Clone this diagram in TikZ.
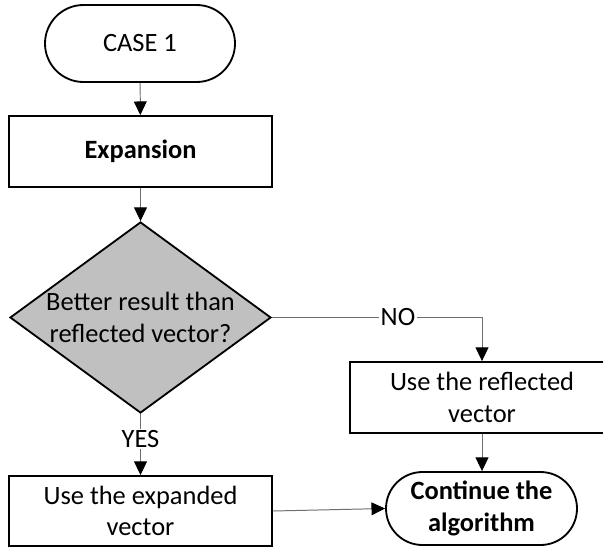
\documentclass[tikz,border=0pt]{standalone}
\usepackage{fontspec}
\setmainfont{Carlito}
\usetikzlibrary{arrows.meta,shapes.geometric,shapes.misc}
\definecolor{decgray}{RGB}{192,192,192}
\definecolor{linegray}{RGB}{110,110,110}
\tikzset{
  term/.style={draw=black, line width=1.3pt, rounded rectangle, align=center,
               font=\fontsize{18.8}{22.5}\selectfont, inner sep=0pt},
  blk/.style={draw=black, line width=1.3pt, rectangle, align=center,
              font=\fontsize{18.8}{22.5}\selectfont, inner sep=0pt},
  dec/.style={draw=black, line width=1.3pt, diamond, fill=decgray, inner sep=0pt},
  dectext/.style={align=center, font=\fontsize{18.8}{22.5}\selectfont, inner sep=0pt},
  conn/.style={draw=linegray, line width=0.7pt,
               -{Triangle[length=3.4mm, width=3.2mm, black]}},
  lbl/.style={fill=white, font=\fontsize{18.8}{22.5}\selectfont, inner sep=1pt},
}

\begin{document}
\begin{tikzpicture}
        \path[use as bounding box, clip] (0,0) rectangle (15.075,13.7);
        \fill[white] (0,0) rectangle (15.075,13.7);
        % boxes
        \node[term, minimum width=4.75cm, minimum height=1.925cm] (case) at (3.5,12.6125) {CASE 1};
        \node[blk, minimum width=6.575cm, minimum height=1.775cm] (expa) at (3.5125,9.9125) {\bfseries Expansion};
        \node[dec, minimum width=6.525cm, minimum height=4.775cm] (better) at (3.5125,5.7625) {};
        \node[dectext] (bettertxt) at (better.center) {Better result than\\reflected vector?};
        \node[blk, minimum width=6.6cm, minimum height=1.775cm] (refl) at (12.05,3.7625) {Use the reflected\\vector};
        \node[blk, minimum width=6.575cm, minimum height=1.75cm] (useexp) at (3.5125,0.925) {Use the expanded\\vector};
        \node[term, minimum width=4.775cm, minimum height=1.825cm] (cont) at (12.0375,0.9875) {\bfseries Continue the\\\bfseries algorithm};
        % connectors
        \draw[conn] (case) -- (expa);
        \draw[conn] (expa) -- (better);
        \draw[conn] (better.east) -| (refl.north) node[lbl, pos=0.3] (no) {NO};
        \draw[conn] (better.south) -- (useexp.north) node[lbl, pos=0.41] (yes) {YES};
        \draw[conn] (refl.south) -- (refl.south |- cont.north);
        \draw[conn] (useexp.east) -- (cont.west);
      \end{tikzpicture}
\end{document}
